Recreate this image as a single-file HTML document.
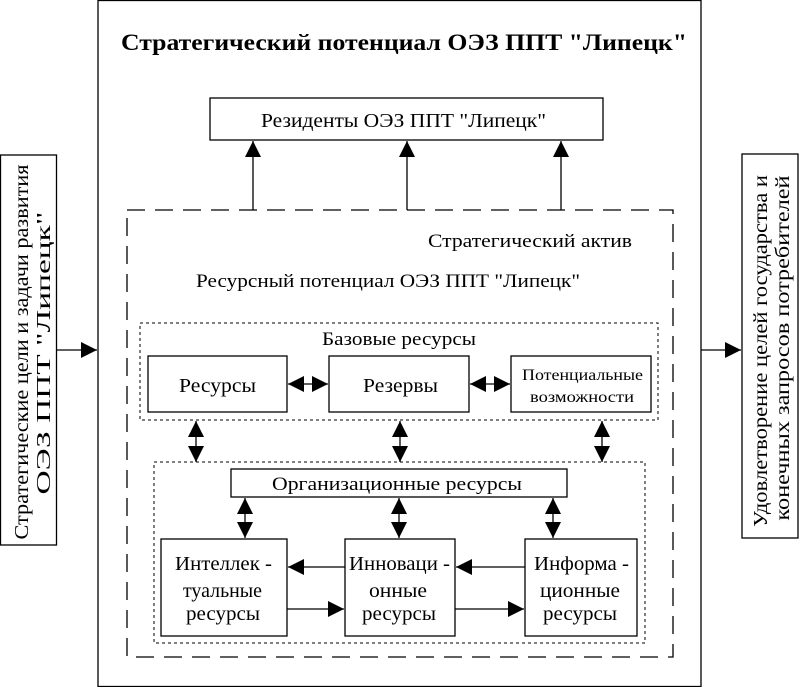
<!DOCTYPE html>
<html><head><meta charset="utf-8"><style>
html,body{margin:0;padding:0;background:#fff;width:799px;height:687px;overflow:hidden}
text{font-family:"Liberation Serif",serif;fill:#000}
</style></head><body>
<svg width="799" height="687" viewBox="0 0 799 687" xmlns="http://www.w3.org/2000/svg">
<defs>
<marker id="a" viewBox="0 0 10 10" refX="10" refY="5" markerWidth="16" markerHeight="16" markerUnits="userSpaceOnUse" orient="auto-start-reverse"><path d="M0,0L10,5L0,10z" fill="#000"/></marker>
</defs>
<g fill="none" stroke="#000" stroke-width="1.3">
<rect x="98" y="0.5" width="603" height="686"/>
<rect x="0.5" y="155" width="56" height="390"/>
<rect x="742" y="154" width="56" height="384"/>
<rect x="210" y="98" width="393" height="42"/>
<rect x="127" y="210" width="546" height="447" stroke-dasharray="18,10"/>
<rect x="140" y="323" width="518" height="97" stroke-dasharray="3,3" stroke-width="1"/>
<rect x="154" y="462" width="491" height="181" stroke-dasharray="3,3" stroke-width="1"/>
<rect x="148" y="356" width="139" height="56"/>
<rect x="329" y="356" width="140" height="56"/>
<rect x="511" y="356" width="140" height="56"/>
<rect x="231" y="469" width="336" height="28"/>
<rect x="161" y="539" width="126" height="97"/>
<rect x="345" y="539" width="110" height="97"/>
<rect x="525" y="539" width="112" height="97"/>
<g marker-end="url(#a)">
<line x1="57" y1="350" x2="97" y2="350"/>
<line x1="701" y1="350" x2="741" y2="350"/>
<line x1="253" y1="210" x2="253" y2="141"/>
<line x1="407" y1="210" x2="407" y2="141"/>
<line x1="561" y1="210" x2="561" y2="141"/>
<line x1="345" y1="567" x2="288" y2="567"/>
<line x1="525" y1="567" x2="456" y2="567"/>
<line x1="287" y1="609" x2="344" y2="609"/>
<line x1="455" y1="609" x2="524" y2="609"/>
</g>
<g marker-start="url(#a)" marker-end="url(#a)">
<line x1="288" y1="384" x2="328" y2="384"/>
<line x1="470" y1="384" x2="510" y2="384"/>
<line x1="196" y1="421" x2="196" y2="462"/>
<line x1="400" y1="421" x2="400" y2="462"/>
<line x1="602" y1="421" x2="602" y2="462"/>
<line x1="245" y1="498" x2="245" y2="538"/>
<line x1="399" y1="498" x2="399" y2="538"/>
<line x1="553" y1="498" x2="553" y2="538"/>
</g>
</g>
<g lengthAdjust="spacingAndGlyphs">
<text x="121" y="50" font-size="23" font-weight="bold" textLength="566" lengthAdjust="spacingAndGlyphs">Стратегический  потенциал ОЭЗ ППТ "Липецк"</text>
<text x="261" y="127" font-size="20" textLength="285" lengthAdjust="spacingAndGlyphs">Резиденты  ОЭЗ ППТ "Липецк"</text>
<text x="428" y="247" font-size="19" textLength="204" lengthAdjust="spacingAndGlyphs">Стратегический   актив</text>
<text x="196" y="287" font-size="19" textLength="384" lengthAdjust="spacingAndGlyphs">Ресурсный  потенциал   ОЭЗ ППТ "Липецк"</text>
<text x="322" y="345" font-size="19" textLength="154" lengthAdjust="spacingAndGlyphs">Базовые ресурсы</text>
<text x="179" y="392" font-size="20" textLength="77" lengthAdjust="spacingAndGlyphs">Ресурсы</text>
<text x="363" y="392" font-size="20" textLength="75" lengthAdjust="spacingAndGlyphs">Резервы</text>
<text x="522" y="380" font-size="16" textLength="121" lengthAdjust="spacingAndGlyphs">Потенциальные</text>
<text x="530" y="402" font-size="16" textLength="104" lengthAdjust="spacingAndGlyphs">возможности</text>
<text x="272" y="490" font-size="19" textLength="250" lengthAdjust="spacingAndGlyphs">Организационные    ресурсы</text>
<text x="175" y="570" font-size="20" textLength="97" lengthAdjust="spacingAndGlyphs">Интеллек -</text>
<text x="183" y="597" font-size="20" textLength="79" lengthAdjust="spacingAndGlyphs">туальные</text>
<text x="186" y="620" font-size="20" textLength="74" lengthAdjust="spacingAndGlyphs">ресурсы</text>
<text x="349" y="570" font-size="20" textLength="101" lengthAdjust="spacingAndGlyphs">Инноваци -</text>
<text x="369" y="597" font-size="20" textLength="58" lengthAdjust="spacingAndGlyphs">онные</text>
<text x="362" y="620" font-size="20" textLength="74" lengthAdjust="spacingAndGlyphs">ресурсы</text>
<text x="534" y="570" font-size="20" textLength="95" lengthAdjust="spacingAndGlyphs">Информа -</text>
<text x="540" y="597" font-size="20" textLength="80" lengthAdjust="spacingAndGlyphs">ционные</text>
<text x="543" y="620" font-size="20" textLength="74" lengthAdjust="spacingAndGlyphs">ресурсы</text>
</g>
<g font-size="20" text-anchor="middle">
<text transform="translate(28,352) rotate(-90)" textLength="375" lengthAdjust="spacingAndGlyphs">Стратегические цели и задачи развития</text>
<text transform="translate(50,353) rotate(-90)" textLength="283" lengthAdjust="spacingAndGlyphs">ОЭЗ ППТ "Липецк"</text>
<text transform="translate(767,351) rotate(-90)" textLength="352" lengthAdjust="spacingAndGlyphs">Удовлетворение целей государства и</text>
<text transform="translate(789,348) rotate(-90)" textLength="345" lengthAdjust="spacingAndGlyphs">конечных запросов потребителей</text>
</g>
</svg>
</body></html>
